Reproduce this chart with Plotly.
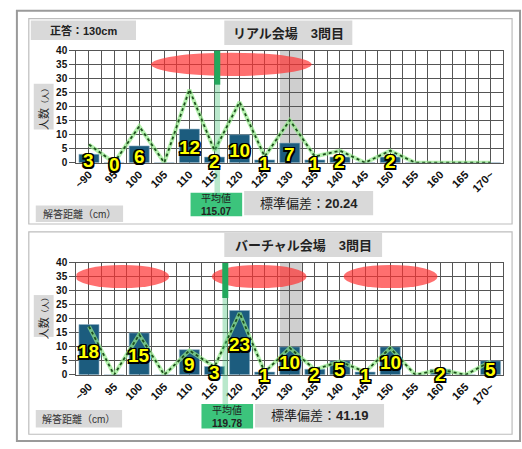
import plotly.graph_objects as go

# ---------------- data ----------------
categories = ["~90", "95", "100", "105", "110", "115", "120", "125", "130",
              "135", "140", "145", "150", "155", "160", "165", "170~"]
real_counts = [3, 0, 6, 0, 12, 2, 10, 1, 7, 1, 2, 0, 2, 0, 0, 0, 0]
real_labels = ["3", "0", "6", "", "12", "2", "10", "1", "7", "1", "2", "", "2", "", "", "", ""]
real_pct = [6.5, 0, 13.0, 0, 26.1, 4.3, 21.7, 2.2, 15.2, 2.2, 4.3, 0, 4.3, 0, 0, 0, 0]
virtual_counts = [18, 0, 15, 0, 9, 3, 23, 1, 10, 2, 5, 1, 10, 0, 2, 0, 5]
virtual_labels = ["18", "", "15", "", "9", "3", "23", "1", "10", "2", "5", "1", "10", "", "2", "", "5"]
virtual_pct = [17.3, 0, 14.4, 0, 8.7, 2.9, 22.1, 1.0, 9.6, 1.9, 4.8, 1.0, 9.6, 0, 1.9, 0, 4.8]
y_ticks = [0, 5, 10, 15, 20, 25, 30, 35, 40]

real_title = "リアル会場　3問目"
virtual_title = "バーチャル会場　3問目"
answer_text = "正答：130cm"
real_mean = "115.07"
virtual_mean = "119.78"
real_sd = "20.24"
virtual_sd = "41.19"

# ---------------- helpers ----------------
W, H = 522, 449
def px(x):
    return x / W
def py(y):
    return 1 - y / H

JP = "Liberation Sans, Noto Sans CJK JP"
BAR = "#1c5c7e"
GRID = "#555555"
BOXGRAY = "#d9d9d9"
OUTLINE = ("1.5px 1.5px 0 #000, -1.5px -1.5px 0 #000, 1.5px -1.5px 0 #000, -1.5px 1.5px 0 #000, "
           "0 1.5px 0 #000, 1.5px 0 0 #000, -1.5px 0 0 #000, 0 -1.5px 0 #000")

xs = list(range(len(categories)))

fig = go.Figure()

panels = [
    dict(xa="x", ya="y", counts=real_counts, pct=real_pct, labels=real_labels),
    dict(xa="x2", ya="y2", counts=virtual_counts, pct=virtual_pct, labels=virtual_labels),
]

annotations = []
for p in panels:
    fig.add_trace(go.Bar(x=xs, y=p["counts"], width=0.8, marker=dict(color=BAR, line=dict(color="#8fb0c4", width=0.6)),
                         xaxis=p["xa"], yaxis=p["ya"], showlegend=False, hoverinfo="skip"))
    fig.add_trace(go.Scatter(x=xs, y=p["pct"], mode="lines", line=dict(color="rgba(150,235,140,0.7)", width=4),
                             xaxis=p["xa"], yaxis=p["ya"], showlegend=False, hoverinfo="skip"))
    fig.add_trace(go.Scatter(x=xs, y=p["pct"], mode="lines", line=dict(color="#1d4f1d", width=1.8, dash="dot"),
                             xaxis=p["xa"], yaxis=p["ya"], showlegend=False, hoverinfo="skip"))
    for i, (v, lab) in enumerate(zip(p["counts"], p["labels"])):
        if lab:
            annotations.append(dict(x=i, y=v / 2, xref=p["xa"], yref=p["ya"], text=lab, showarrow=False,
                                    yshift=-2,
                                    font=dict(family="Liberation Sans", size=19, color="#ffff00",
                                              weight="bold", shadow=OUTLINE)))

axis_common_x = dict(range=[-0.5, 16.5], tickmode="array", tickvals=xs, ticktext=categories,
                     tickangle=-45, showgrid=True, gridcolor=GRID, gridwidth=1.4,
                     minor=dict(tickmode="array", tickvals=[i - 0.5 for i in range(18)],
                                showgrid=True, gridcolor=GRID, gridwidth=1.4),
                     showline=True, linecolor=GRID, linewidth=1.4, mirror=True,
                     zeroline=False, ticks="",
                     tickfont=dict(family="Liberation Sans", size=11, color="#111", weight="bold"),
                     domain=[px(73), px(503)], fixedrange=True)
axis_common_y = dict(range=[0, 40], tickmode="array", tickvals=y_ticks, showgrid=True,
                     gridcolor=GRID, gridwidth=1.4, showline=True, linecolor=GRID, linewidth=1.4,
                     mirror=True, zeroline=False, ticks="outside", ticklen=6, tickcolor=GRID,
                     tickfont=dict(family="Liberation Sans", size=10, color="#111", weight="bold"),
                     fixedrange=True)

fig.update_layout(
    xaxis=dict(axis_common_x, anchor="y"),
    yaxis=dict(axis_common_y, anchor="x", domain=[py(161), py(46)]),
    xaxis2=dict(axis_common_x, anchor="y2"),
    yaxis2=dict(axis_common_y, anchor="x2", domain=[py(379), py(264)]),
)

shapes = []
# outer frame and panels
shapes.append(dict(type="rect", xref="paper", yref="paper", x0=px(13), x1=px(520), y0=py(447), y1=py(5),
                   line=dict(color="#9a9a9a", width=2), layer="below"))
shapes.append(dict(type="rect", xref="paper", yref="paper", x0=px(25), x1=px(512), y0=py(224), y1=py(13),
                   line=dict(color="#bdbdbd", width=1.2), layer="below"))
shapes.append(dict(type="rect", xref="paper", yref="paper", x0=px(25), x1=px(512), y0=py(440), y1=py(232),
                   line=dict(color="#bdbdbd", width=1.2), layer="below"))

def box(x0, x1, y0, y1, color=BOXGRAY):
    shapes.append(dict(type="rect", xref="paper", yref="paper", x0=px(x0), x1=px(x1), y0=py(y1), y1=py(y0),
                       fillcolor=color, line=dict(width=0), layer="below"))

def text(x, y, t, size, bold=False, color="#222", angle=0):
    annotations.append(dict(x=px(x), y=py(y), xref="paper", yref="paper", text=t, showarrow=False,
                            textangle=angle, xanchor="center", yanchor="middle",
                            font=dict(family=JP, size=size, color=color, weight="bold" if bold else "normal")))

# correct answer band (130 -> index 8)
for xa, ya in (("x", "y"), ("x2", "y2")):
    shapes.append(dict(type="rect", xref=xa, yref=ya, x0=7.61, x1=8.48, y0=0, y1=40,
                       fillcolor="#cfcfcf", line=dict(width=0), layer="below"))

# red ellipses
ell = [("x", "y", 2.47, 8.87), ("x2", "y2", -0.55, 3.2), ("x2", "y2", 4.89, 8.67), ("x2", "y2", 10.14, 13.89)]
for xa, ya, a, b in ell:
    shapes.append(dict(type="circle", xref=xa, yref=ya, x0=a, x1=b, y0=31.0, y1=39.3,
                       fillcolor="rgba(255,50,50,0.7)", line=dict(width=0), layer="above"))

# mean lines
for xa, ya, xc, top_px, dark_px, box_px in (("x", "y", 5.11, 46, 81, 192), ("x2", "y2", 5.43, 264, 300, 409)):
    shapes.append(dict(type="rect", xref=xa, yref="paper", x0=xc - 0.11, x1=xc + 0.11, y0=py(box_px), y1=py(dark_px),
                       fillcolor="rgba(70,195,120,0.38)", line=dict(width=0), layer="above"))
    shapes.append(dict(type="rect", xref=xa, yref="paper", x0=xc - 0.12, x1=xc + 0.12, y0=py(dark_px), y1=py(top_px),
                       fillcolor="#22a85c", line=dict(width=0), layer="above"))

# ---- top panel labels ----
box(27, 133, 15, 35); text(80, 25.5, answer_text, 11, bold=True)
box(222, 351, 15, 40); text(286.5, 28, real_title, 13, bold=True)
box(30, 50, 80, 127); text(40.5, 103.5, "人数<span style='font-size:8px'>（人）</span>", 11, angle=-90)
box(32, 120, 205, 222); text(76, 213.5, "解答距離（cm）", 10, color="#333")
box(188, 240, 192, 216, color="#3cc47c"); text(214, 204, "平均値<br><b>" + real_mean + "</b>", 10)
box(242, 372, 190, 215); text(307, 203, "標準偏差：<b>" + real_sd + "</b>", 13)

# ---- bottom panel labels ----
box(222, 381, 233, 258); text(301.5, 246, virtual_title, 13, bold=True)
box(30, 50, 297, 340); text(40.5, 318.5, "人数<span style='font-size:8px'>（人）</span>", 11, angle=-90)
box(32, 119, 415, 433); text(75.5, 424, "解答距離（cm）", 10, color="#333")
box(199, 251, 409, 434, color="#3cc47c"); text(225, 421.5, "平均値<br><b>" + virtual_mean + "</b>", 10)
box(253, 383, 409, 433); text(318, 421, "標準偏差：<b>" + virtual_sd + "</b>", 13)

fig.update_layout(
    width=W, height=H, margin=dict(l=0, r=0, t=0, b=0),
    paper_bgcolor="white", plot_bgcolor="white",
    shapes=shapes, annotations=annotations, bargap=0.2, showlegend=False,
)

fig.write_html("out.html", config={"displayModeBar": False})
